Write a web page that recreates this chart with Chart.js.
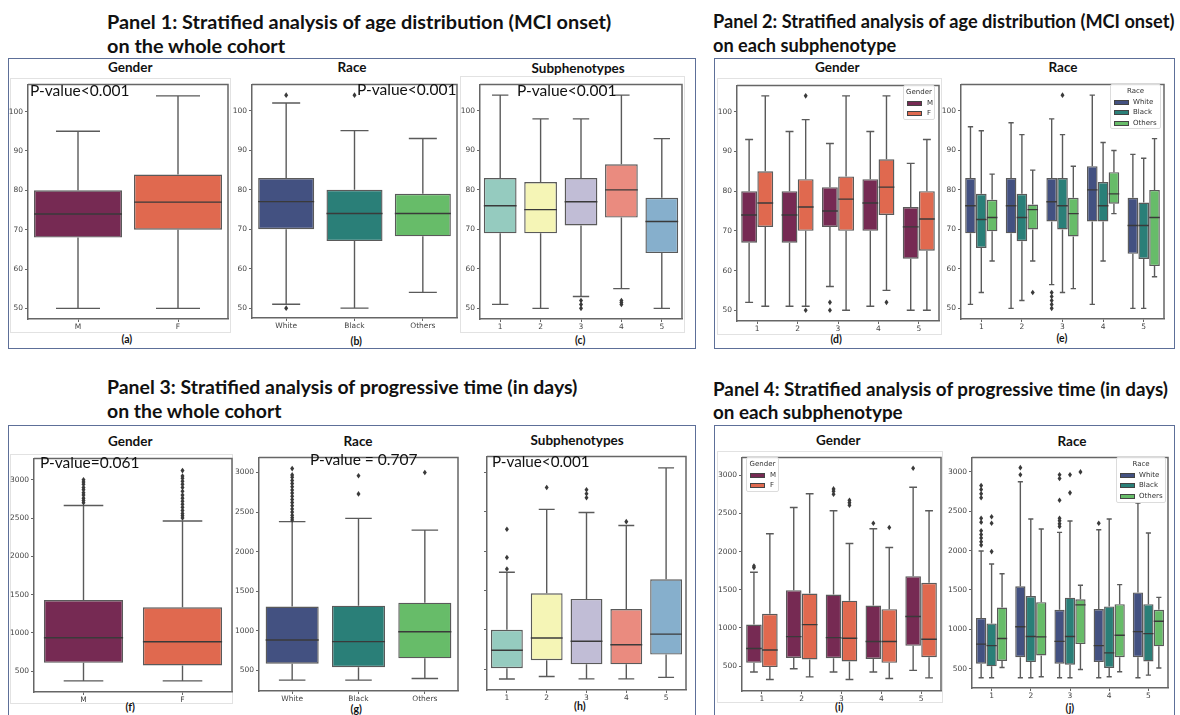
<!DOCTYPE html>
<html>
<head>
<meta charset="utf-8">
<script src="https://cdn.jsdelivr.net/npm/chart.js@4.4.1/dist/chart.umd.min.js"></script>
<style>
  body { margin: 0; background: #fff; width: 1180px; height: 715px; position: relative; overflow: hidden; font-family: Lato, "Open Sans", sans-serif; color: #111; }
  .abs { position: absolute; white-space: nowrap; line-height: 1.15; }
  .frame { position: absolute; border: 1.5px solid #5d6f98; box-sizing: border-box; }
  .faint { position: absolute; border: 1px solid #e2e2e2; box-sizing: border-box; }
  canvas { position: absolute; }
  .leg { position: absolute; border: 1px solid #dcdcdc; border-radius: 2px; background: rgba(255,255,255,0.8); font-family: "DejaVu Sans", sans-serif; font-size: 7px; color: #333; box-sizing: border-box; }
  .leg .row { position: absolute; left: 0; right: 0; }
  .leg .sw { position: absolute; width: 15px; height: 5px; border: 1px solid #444; box-sizing: border-box; }
</style>
</head>
<body>
<script>
const genderLabels = ['M', 'F'];
const raceLabels = ['White', 'Black', 'Others'];
const subLabels = ['1', '2', '3', '4', '5'];
const ageTicks = [50, 60, 70, 80, 90, 100];
const dayTicks = [500, 1000, 1500, 2000, 2500, 3000];

// box stats are [low whisker, Q1, median, Q3, high whisker]
// panel 1: age at MCI onset, whole cohort
const ageByGender = [[50, 68, 74, 80, 95], [50, 70, 77, 84, 104]];
const ageByGenderOut = [[], []];
const ageByRace = [[51, 70, 77, 83, 102], [50, 67, 74, 80, 95], [54, 68.2, 74, 79, 93]];
const ageByRaceOut = [[104, 50], [104], []];
const ageBySub = [[51, 69, 76, 83, 104], [50, 69, 75, 82, 98], [53, 71, 77, 83, 98], [55, 73, 80, 86.5, 104], [50, 64, 72, 78, 93]];
const ageBySubOut = [[], [], [52, 51, 50], [52, 51.5, 51], []];

// panel 2: age per subphenotype
const ageSubM = [[52, 67, 74, 80, 93], [51, 67, 74, 80, 95], [56, 71, 75, 81, 92], [51, 70, 77, 83, 95], [50, 63, 71, 76, 87]];
const ageSubMOut = [[], [], [52, 50], [], []];
const ageSubF = [[51, 71, 77, 85, 104], [51, 70, 76, 83, 98], [50, 70, 78, 83.7, 104], [55, 74, 81, 88, 104], [50, 65, 73, 80, 93]];
const ageSubFOut = [[], [104, 50], [], [52], []];
const ageSubWhite = [[51, 69, 76, 83, 96], [50, 69, 76, 83, 97], [56, 72, 77, 83, 98], [51, 72, 80, 86, 104], [50, 63.8, 71, 78, 89]];
const ageSubWhiteOut = [[], [], [54, 53, 52, 51, 50], [], []];
const ageSubBlack = [[54, 65.3, 72.5, 79, 95], [52, 67, 73, 79, 94], [54, 70, 76, 83, 94], [62, 72, 76, 82, 92], [50, 62.5, 71, 76.8, 88]];
const ageSubBlackOut = [[], [], [104], [], []];
const ageSubOthers = [[62, 69.5, 73, 77.5, 84], [62, 70, 75, 76.3, 85], [55, 68.2, 74, 78, 86], [74, 76.5, 79, 84.5, 90], [58, 60.7, 73, 80, 93]];
const ageSubOthersOut = [[], [54], [], [], []];

// panel 3: progressive time in days, whole cohort
const daysByGender = [[372, 608, 936, 1428, 2663], [372, 573, 884, 1333, 2462]];
const daysByGenderOut = [
  [2700, 2730, 2760, 2800, 2830, 2870, 2900, 2940, 2970, 3000],
  [2500, 2530, 2560, 2600, 2640, 2680, 2720, 2760, 2800, 2850, 2900, 2940, 2980, 3020, 3050, 3120]];
const daysByRace = [[377, 584, 885, 1306, 2380], [377, 541, 864, 1318, 2421], [398, 653, 988, 1356, 2272]];
const daysByRaceOut = [
  [2400, 2430, 2460, 2500, 2540, 2580, 2620, 2660, 2700, 2740, 2780, 2820, 2860, 2900, 2940, 2970, 3050],
  [2730, 2960], [3000]];
const daysBySub = [[378, 515, 742, 1002, 1734], [410, 617, 899, 1465, 2532], [379, 564, 857, 1395, 2491], [379, 564, 812, 1266, 2326], [398, 688, 948, 1643, 3058]];
const daysBySubOut = [[1775, 1920, 2280], [2810], [2680, 2730, 2780], [2376], []];

// panel 4: progressive time per subphenotype
const daysSubM = [[424, 544, 732, 1044, 1729], [467, 608, 886, 1494, 2576], [424, 604, 873, 1438, 2534], [424, 595, 822, 1293, 2298], [445, 766, 1151, 1678, 2842]];
const daysSubMOut = [[1790, 1810], [], [2750, 2790, 2820], [2371], [3090]];
const daysSubF = [[326, 488, 711, 1186, 2234], [360, 587, 1044, 1451, 2756], [326, 561, 865, 1357, 2106], [338, 544, 822, 1246, 2054], [347, 617, 852, 1592, 2534]];
const daysSubFOut = [[], [], [2606, 2640, 2670], [2315], []];
const daysSubWhite = [[385, 563, 812, 1144, 1995], [385, 646, 1032, 1547, 2875], [385, 563, 846, 1248, 2232], [385, 584, 792, 1257, 2265], [385, 646, 970, 1468, 2605]];
const daysSubWhiteOut = [[2070, 2112, 2161, 2203, 2253, 2361, 2411, 2672, 2722, 2776, 2826], [2963, 3054], [2307, 2340, 2380, 2411, 2639, 2917, 2963], [2348], []];
const daysSubBlack = [[385, 530, 792, 1074, 1829], [385, 584, 908, 1423, 2402], [385, 551, 908, 1402, 2377], [397, 509, 700, 1290, 2402], [418, 592, 945, 1319, 2224]];
const daysSubBlackOut = [[1987, 2348, 2431], [], [2734, 2963], [], []];
const daysSubOthers = [[514, 597, 883, 1277, 1705], [397, 667, 904, 1344, 2274], [489, 812, 1310, 1381, 1560], [460, 646, 925, 1319, 1568], [509, 783, 1103, 1248, 1406]];
const daysSubOthersOut = [[], [], [3000], [], []];

// colours
const genderColors = ['#762a53', '#e0694f'];
const raceColors = ['#435181', '#2a7f78', '#67bc69'];
const subColors = ['#95cbbf', '#f5f5b6', '#c1bdd6', '#ea8b7f', '#86afcc'];
const lineColor = '#5a5a5a';

const AXW = 26, AXH = 16, PADT = 2, PADR = 2;

// whiskers, medians, caps, outliers and the top/right spines
const boxPlugin = {
  id: 'boxes',
  afterDatasetsDraw(chart) {
    const ctx = chart.ctx, y = chart.scales.y, a = chart.chartArea;
    ctx.save();
    ctx.beginPath();
    ctx.rect(a.left, a.top, a.right - a.left, a.bottom - a.top);
    ctx.clip();
    ctx.lineWidth = 1.4;
    chart.data.datasets.forEach((ds, di) => {
      chart.getDatasetMeta(di).data.forEach((bar, i) => {
        const s = ds.stats[i], x = bar.x, w = bar.width;
        ctx.strokeStyle = lineColor;
        ctx.beginPath();
        ctx.moveTo(x, y.getPixelForValue(s[0])); ctx.lineTo(x, y.getPixelForValue(s[1]));
        ctx.moveTo(x, y.getPixelForValue(s[3])); ctx.lineTo(x, y.getPixelForValue(s[4]));
        ctx.moveTo(x - w / 4, y.getPixelForValue(s[0])); ctx.lineTo(x + w / 4, y.getPixelForValue(s[0]));
        ctx.moveTo(x - w / 4, y.getPixelForValue(s[4])); ctx.lineTo(x + w / 4, y.getPixelForValue(s[4]));
        ctx.stroke();
        ctx.beginPath();
        ctx.strokeStyle = '#3a3a3a';
        ctx.moveTo(x - w / 2, y.getPixelForValue(s[2])); ctx.lineTo(x + w / 2, y.getPixelForValue(s[2]));
        ctx.stroke();
        ctx.fillStyle = '#3a3a3a';
        ds.outliers[i].forEach(v => {
          const py = y.getPixelForValue(v);
          ctx.beginPath();
          ctx.moveTo(x, py - 2.8); ctx.lineTo(x + 2, py); ctx.lineTo(x, py + 2.8); ctx.lineTo(x - 2, py);
          ctx.closePath();
          ctx.fill();
        });
      });
    });
    ctx.restore();
    ctx.save();
    ctx.strokeStyle = '#666';
    ctx.lineWidth = 1.5;
    ctx.beginPath();
    ctx.moveTo(a.left, a.top); ctx.lineTo(a.right, a.top); ctx.lineTo(a.right, a.bottom);
    ctx.stroke();
    ctx.restore();
  }
};

function boxPlot(frame, yMin, yMax, tickVals, labels, series, catPct, noYLabels) {
  const c = document.createElement('canvas');
  c.width = frame.r - frame.l + AXW + PADR;
  c.height = frame.b - frame.t + PADT + AXH;
  c.style.left = (frame.l - AXW) + 'px';
  c.style.top = (frame.t - PADT) + 'px';
  document.body.appendChild(c);
  const datasets = series.map(s => ({
    data: s.stats.map(v => [v[1], v[3]]),
    stats: s.stats,
    outliers: s.out,
    backgroundColor: s.color,
    borderColor: lineColor,
    borderWidth: 1.4,
    borderSkipped: false,
    barPercentage: series.length > 1 ? 0.98 : 1,
    categoryPercentage: catPct
  }));
  const tickFont = { family: 'DejaVu Sans', size: 7.5 };
  new Chart(c, {
    type: 'bar',
    data: { labels: labels, datasets: datasets },
    options: {
      responsive: false,
      animation: false,
      devicePixelRatio: 1,
      layout: { padding: { top: PADT, right: PADR, left: 0, bottom: 0 } },
      plugins: { legend: { display: false }, tooltip: { enabled: false } },
      scales: {
        x: {
          offset: true,
          grid: { drawOnChartArea: false, offset: false, tickLength: 3, color: '#666' },
          border: { color: '#666', width: 1.5 },
          ticks: { font: tickFont, color: '#444', padding: 1, maxRotation: 0 },
          afterFit(s) { s.height = AXH; }
        },
        y: {
          min: yMin,
          max: yMax,
          grid: { drawOnChartArea: false, tickLength: 3, color: '#666' },
          border: { color: '#666', width: 1.5 },
          ticks: {
            font: tickFont, color: '#444', padding: 2,
            callback: v => noYLabels ? '' : String(v)
          },
          afterBuildTicks(s) { s.ticks = tickVals.map(v => ({ value: v })); },
          afterFit(s) { s.width = AXW; }
        }
      }
    },
    plugins: [boxPlugin]
  });
}

function addDiv(cls, l, t, r, b) {
  const d = document.createElement('div');
  d.className = cls;
  Object.assign(d.style, { left: l + 'px', top: t + 'px', width: (r - l) + 'px', height: (b - t) + 'px' });
  document.body.appendChild(d);
}

function addText(str, x, y, style, fitW, center) {
  const d = document.createElement('div');
  d.className = 'abs';
  d.textContent = str;
  Object.assign(d.style, style);
  document.body.appendChild(d);
  if (fitW) {
    const fs = parseFloat(d.style.fontSize);
    d.style.fontSize = (fs * fitW / d.offsetWidth) + 'px';
  }
  d.style.left = (center ? x - d.offsetWidth / 2 : x) + 'px';
  d.style.top = (y - d.offsetHeight / 2) + 'px';
  return parseFloat(d.style.fontSize);
}

// two-line panel heading, sized from the first line's width
function addHeading(line1, line2, x, y1, y2, fitW) {
  const fs = addText(line1, x, y1, { fontWeight: 'bold', fontSize: '17px' }, fitW);
  addText(line2, x, y2, { fontWeight: 'bold', fontSize: fs + 'px' });
}

function addLegend(title, names, colors, l, t, r, b) {
  const d = document.createElement('div');
  d.className = 'leg';
  Object.assign(d.style, { left: l + 'px', top: t + 'px', width: (r - l) + 'px', height: (b - t) + 'px' });
  let html = '<div class="row" style="top:2px;text-align:center">' + title + '</div>';
  names.forEach((n, i) => {
    const ty = 12.5 + i * 10.7;
    html += '<div class="sw" style="left:3px;top:' + (ty + 2) + 'px;background:' + colors[i] + '"></div>';
    html += '<div class="row" style="top:' + ty + 'px;left:' + (r - l > 40 ? 22 : 23) + 'px">' + n + '</div>';
  });
  d.innerHTML = html;
  document.body.appendChild(d);
}

// frames
addDiv('frame', 8, 58, 696, 349);
addDiv('frame', 714, 58, 1175, 349);
addDiv('frame', 8, 425, 696, 720);
addDiv('frame', 714, 425, 1175, 720);
addDiv('faint', 10, 78, 231, 333);
addDiv('faint', 460, 76, 685, 333);
addDiv('faint', 717, 78, 942, 335);
addDiv('faint', 10, 454, 233, 704);
addDiv('faint', 717, 451, 943, 703);

// panel titles
addHeading('Panel 1: Stratified analysis of age distribution (MCI onset)', 'on the whole cohort', 107, 21, 45, 505);
addHeading('Panel 2: Stratified analysis of age distribution (MCI onset)', 'on each subphenotype', 713, 21, 45, 462);
addHeading('Panel 3: Stratified analysis of progressive time (in days)', 'on the whole cohort', 107, 387, 411, 470);
addHeading('Panel 4: Stratified analysis of progressive time (in days)', 'on each subphenotype', 713, 389, 412, 455);

// subplot titles and letters
const stStyle = { fontWeight: 'bold', fontSize: '13.5px' };
const lbStyle = { fontWeight: 'bold', fontSize: '10.5px' };
[['Gender', 130, 68], ['Race', 352, 68], ['Subphenotypes', 578, 69], ['Gender', 837, 68], ['Race', 1063, 68],
 ['Gender', 130, 442], ['Race', 358, 442], ['Subphenotypes', 577, 441], ['Gender', 838, 441], ['Race', 1072, 442]]
  .forEach(t => addText(t[0], t[1], t[2], stStyle, null, true));
[['(a)', 127, 339], ['(b)', 356, 341], ['(c)', 580, 340], ['(d)', 836, 339], ['(e)', 1062, 338],
 ['(f)', 130, 707], ['(g)', 356, 709], ['(h)', 580, 706], ['(i)', 839, 707], ['(j)', 1070, 708]]
  .forEach(t => addText(t[0], t[1], t[2], lbStyle, null, true));

// charts
boxPlot({ l: 28, t: 80, r: 228, b: 319 }, 47.3, 106.9, ageTicks, genderLabels,
  [{ stats: ageByGender, out: ageByGenderOut, color: genderColors }], 0.88);
boxPlot({ l: 252, t: 80, r: 457, b: 318 }, 47.5, 106.7, ageTicks, raceLabels,
  [{ stats: ageByRace, out: ageByRaceOut, color: raceColors }], 0.82);
boxPlot({ l: 480, t: 80, r: 682, b: 319 }, 47.3, 106.7, ageTicks, subLabels,
  [{ stats: ageBySub, out: ageBySubOut, color: subColors }], 0.81);
boxPlot({ l: 737, t: 81, r: 939, b: 321 }, 47.3, 106.6, ageTicks, subLabels,
  [{ stats: ageSubM, out: ageSubMOut, color: genderColors[0] },
   { stats: ageSubF, out: ageSubFOut, color: genderColors[1] }], 0.8);
boxPlot({ l: 961, t: 80, r: 1164, b: 319 }, 47.3, 106.7, ageTicks, subLabels,
  [{ stats: ageSubWhite, out: ageSubWhiteOut, color: raceColors[0] },
   { stats: ageSubBlack, out: ageSubBlackOut, color: raceColors[1] },
   { stats: ageSubOthers, out: ageSubOthersOut, color: raceColors[2] }], 0.8);

boxPlot({ l: 34, t: 454, r: 232, b: 692 }, 227, 3278, dayTicks, genderLabels,
  [{ stats: daysByGender, out: daysByGenderOut, color: genderColors }], 0.8);
boxPlot({ l: 259, t: 453, r: 458, b: 691 }, 240, 3190, dayTicks, raceLabels,
  [{ stats: daysByRace, out: daysByRaceOut, color: raceColors }], 0.8);
boxPlot({ l: 487, t: 452, r: 686, b: 690 }, 238, 3203, dayTicks, subLabels,
  [{ stats: daysBySub, out: daysBySubOut, color: subColors }], 0.8, true);
boxPlot({ l: 742, t: 453, r: 941, b: 691 }, 175, 3231, dayTicks, subLabels,
  [{ stats: daysSubM, out: daysSubMOut, color: genderColors[0] },
   { stats: daysSubF, out: daysSubFOut, color: genderColors[1] }], 0.8);
boxPlot({ l: 972, t: 453, r: 1168, b: 688 }, 254, 3183, dayTicks, subLabels,
  [{ stats: daysSubWhite, out: daysSubWhiteOut, color: raceColors[0] },
   { stats: daysSubBlack, out: daysSubBlackOut, color: raceColors[1] },
   { stats: daysSubOthers, out: daysSubOthersOut, color: raceColors[2] }], 0.8);

// legends
addLegend('Gender', genderLabels, genderColors, 903, 85, 935, 120);
addLegend('Race', raceLabels, raceColors, 1110, 84, 1161, 129);
addLegend('Gender', genderLabels, genderColors, 746, 457, 779, 492);
addLegend('Race', raceLabels, raceColors, 1116, 457, 1166, 503);

// p-values
const pvStyle = { fontSize: '16px' };
addText('P-value<0.001', 30, 91, pvStyle, 100);
addText('P-value<0.001', 357, 90, pvStyle, 100);
addText('P-value<0.001', 517, 91, pvStyle, 100);
addText('P-value=0.061', 40, 463, pvStyle, 100);
addText('P-value = 0.707', 310, 460, pvStyle, 108);
addText('P-value<0.001', 492, 462, pvStyle, 98);
</script>
</body>
</html>
